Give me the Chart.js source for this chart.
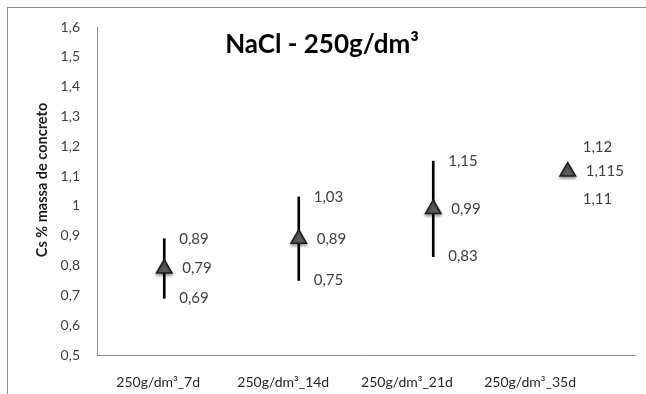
<!DOCTYPE html>
<html>
<head>
<meta charset="utf-8">
<script src="https://cdn.jsdelivr.net/npm/chart.js@4/dist/chart.umd.min.js"></script>
<style>
html,body{margin:0;padding:0;background:#fff;}
#wrap{position:relative;width:646px;height:394px;}
</style>
</head>
<body>
<div id="wrap"><canvas id="c" width="646" height="394"></canvas></div>
<script>
const categories = ['250g/dm³_7d', '250g/dm³_14d', '250g/dm³_21d', '250g/dm³_35d'];
const means = [0.79, 0.89, 0.99, 1.115];
const highs = [0.89, 1.03, 1.15, 1.12];
const lows  = [0.69, 0.75, 0.83, 1.11];
const yMin = 0.5, yMax = 1.6, yStep = 0.1;
const chartTitle = 'NaCl - 250g/dm³';
const yTitle = 'Cs % massa de concreto';

const FONT = 'Lato, "Liberation Sans", sans-serif';
const fmt = v => String(Number(v.toFixed(3))).replace('.', ',');

// label placement along x axis (centre of each category label, axis units)
const labelAt = [0.955, 1.885, 2.805, 3.72];

const decor = {
  id: 'decor',
  beforeDraw(chart) {
    const ctx = chart.ctx;
    ctx.save();
    ctx.fillStyle = '#fff';
    ctx.fillRect(0, 0, chart.width, chart.height);
    ctx.strokeStyle = '#8c8c8c';
    ctx.lineWidth = 1;
    ctx.strokeRect(7.5, 7.5, 800, 600);
    ctx.restore();
  },
  beforeDatasetDraw(chart, args) {
    if (args.index === 1) {
      const ctx = chart.ctx;
      ctx.save();
      ctx.shadowColor = 'rgba(0,0,0,0.35)';
      ctx.shadowBlur = 3;
      ctx.shadowOffsetX = 0;
      ctx.shadowOffsetY = 2;
    }
  },
  afterDatasetDraw(chart, args) {
    if (args.index === 1) chart.ctx.restore();
  },
  afterDatasetsDraw(chart) {
    const ctx = chart.ctx;
    const xs = chart.scales.x, ys = chart.scales.y;
    ctx.save();
    ctx.font = '15px ' + FONT;
    ctx.fillStyle = '#404040';
    ctx.textBaseline = 'middle';
    ctx.textAlign = 'left';
    means.forEach((m, i) => {
      const px = xs.getPixelForValue(i + 1);
      const yM = ys.getPixelForValue(m);
      let yH = ys.getPixelForValue(highs[i]);
      let yL = ys.getPixelForValue(lows[i]);
      if (yM - yH < 20) yH = yM - 24;
      if (yL - yM < 20) yL = yM + 28;
      ctx.fillText(fmt(highs[i]), px + 15, yH);
      ctx.fillText(fmt(m), px + 18, yM);
      ctx.fillText(fmt(lows[i]), px + 15, yL);
    });
    // chart title
    ctx.font = 'bold 26px ' + FONT;
    ctx.fillStyle = '#000';
    ctx.textAlign = 'center';
    ctx.fillText(chartTitle, 322, 45);
    // y axis title
    ctx.translate(42, 180);
    ctx.rotate(-Math.PI / 2);
    ctx.font = 'bold 14.5px ' + FONT;
    ctx.fillStyle = '#1a1a1a';
    ctx.fillText(yTitle, 0, 0);
    ctx.restore();
  }
};

new Chart(document.getElementById('c'), {
  type: 'scatter',
  data: {
    datasets: [
      {
        type: 'bar',
        order: 2,
        data: categories.map((c, i) => ({ x: i + 1, y: [lows[i], highs[i]] })),
        backgroundColor: '#000',
        borderWidth: 0,
        barThickness: 2,
        grouped: false
      },
      {
        type: 'scatter',
        order: 1,
        data: categories.map((c, i) => ({ x: i + 1, y: means[i] })),
        pointStyle: 'triangle',
        pointRadius: 9,
        pointHoverRadius: 9,
        backgroundColor: '#5c5c5c',
        borderColor: '#1e1e1e',
        borderWidth: 1.5
      }
    ]
  },
  options: {
    responsive: false,
    animation: false,
    events: [],
    layout: { padding: { left: 0, top: 27, right: 11, bottom: 0 } },
    plugins: { legend: { display: false }, tooltip: { enabled: false }, title: { display: false } },
    scales: {
      x: {
        type: 'linear',
        min: 0.5, max: 4.5,
        offset: false,
        grid: { display: false, drawTicks: false, offset: false },
        border: { display: true, color: '#868686', width: 1 },
        afterBuildTicks(scale) {
          scale.ticks = labelAt.map(v => ({ value: v }));
        },
        afterFit(scale) { scale.height = 39; },
        ticks: {
          autoSkip: false,
          maxRotation: 0,
          padding: 19,
          color: '#262626',
          font: { family: FONT, size: 14 },
          callback: (v, i) => categories[i]
        }
      },
      y: {
        min: yMin, max: yMax,
        grid: { display: false, drawTicks: false },
        border: { display: true, color: '#868686', width: 1 },
        afterFit(scale) { scale.width = 97; },
        ticks: {
          stepSize: yStep,
          padding: 17,
          color: '#404040',
          font: { family: FONT, size: 14 },
          callback: v => fmt(Number(v.toFixed(1)))
        }
      }
    }
  },
  plugins: [decor]
});
</script>
</body>
</html>
